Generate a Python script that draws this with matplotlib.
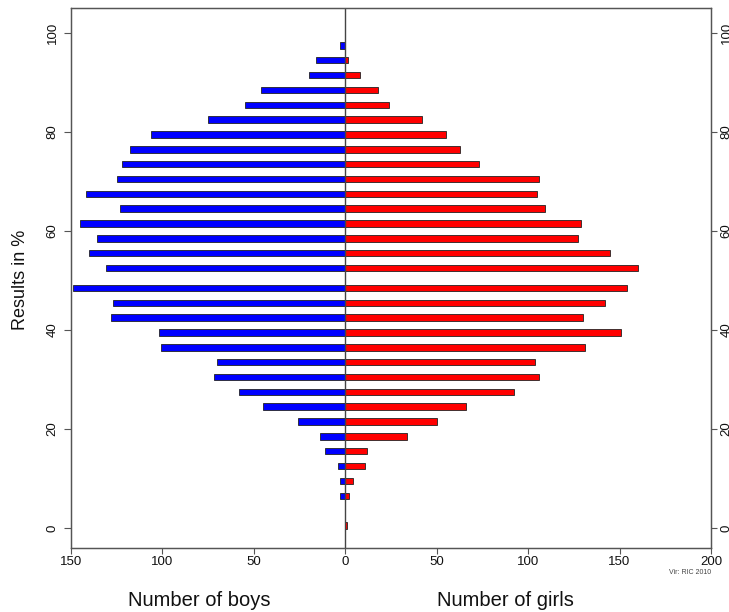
import matplotlib
matplotlib.use("Agg")
import matplotlib.pyplot as plt

plt.rcParams['font.family'] = ['Liberation Sans', 'DejaVu Sans']

# result classes (in %) and counts per class
results = [0.5, 6.5, 9.5, 12.5, 15.5, 18.5, 21.5, 24.5, 27.5, 30.5, 33.5,
           36.5, 39.5, 42.5, 45.5, 48.5, 52.5, 55.5, 58.5, 61.5, 64.5, 67.5,
           70.5, 73.5, 76.5, 79.5, 82.5, 85.5, 88.5, 91.5, 94.5, 97.5]
boys = [0, 3, 3, 4, 11, 14, 26, 45, 58, 72, 70,
        101, 102, 128, 127, 149, 131, 140, 136, 145, 123, 142,
        125, 122, 118, 106, 75, 55, 46, 20, 16, 3]
girls = [1, 2, 4, 11, 12, 34, 50, 66, 92, 106, 104,
         131, 151, 130, 142, 154, 160, 145, 127, 129, 109, 105,
         106, 73, 63, 55, 42, 24, 18, 8, 1.5, 0]

xticks = [-150, -100, -50, 0, 50, 100, 150, 200]
xtick_labels = ['150', '100', '50', '0', '50', '100', '150', '200']
yticks = [0, 20, 40, 60, 80, 100]

W, H = 729, 612
fig = plt.figure(figsize=(W / 100, H / 100), dpi=100)
ax = fig.add_axes([71 / W, (H - 548) / H, 640 / W, 540 / H])

ax.barh(results, [-b for b in boys], height=1.3, color='#0000FF',
        edgecolor='#222222', linewidth=0.6)
ax.barh(results, girls, height=1.3, color='#FF0000',
        edgecolor='#222222', linewidth=0.6)
ax.axvline(0, color='#444444', lw=1, zorder=3)

ax.set_xlim(-150, 200)
ax.set_ylim(-4.04, 105.04)
ax.set_xticks(xticks)
ax.set_xticklabels(xtick_labels)
ax.set_yticks(yticks)

for s in ax.spines.values():
    s.set_color('#555555')
    s.set_linewidth(0.9)
ax.tick_params(axis='x', length=4, width=0.8, color='#555555', labelsize=9.5,
               pad=2, labelcolor='#111111')
ax.tick_params(axis='y', length=5, width=0.8, color='#555555', labelsize=9.5,
               pad=4, labelrotation=90, labelcolor='#111111')
for t in ax.get_yticklabels():
    t.set_va('center')

# right axis repeats the scale (its labels run off the image edge)
ax2 = ax.twinx()
ax2.set_ylim(ax.get_ylim())
ax2.set_yticks(yticks)
ax2.tick_params(axis='y', length=4, width=0.8, color='#555555', labelsize=9.5,
                pad=3, labelrotation=90, labelcolor='#111111')
for t in ax2.get_yticklabels():
    t.set_va('center')
for s in ax2.spines.values():
    s.set_color('#555555')
    s.set_linewidth(0.9)

fig.text(21 / W, 1 - 280 / H, 'Results in %', rotation=90, fontsize=13,
         ha='center', va='center', color='#111111')
fig.text(199 / W, (H - 606) / H, 'Number of boys', fontsize=14.5,
         ha='center', va='baseline', color='#111111')
fig.text(505 / W, (H - 606) / H, 'Number of girls', fontsize=14.5,
         ha='center', va='baseline', color='#111111')
fig.text(711 / W, 1 - 572 / H, 'Vir: RIC 2010', fontsize=5, ha='right',
         va='center', color='#444444')

fig.savefig('out.png', dpi=100)
